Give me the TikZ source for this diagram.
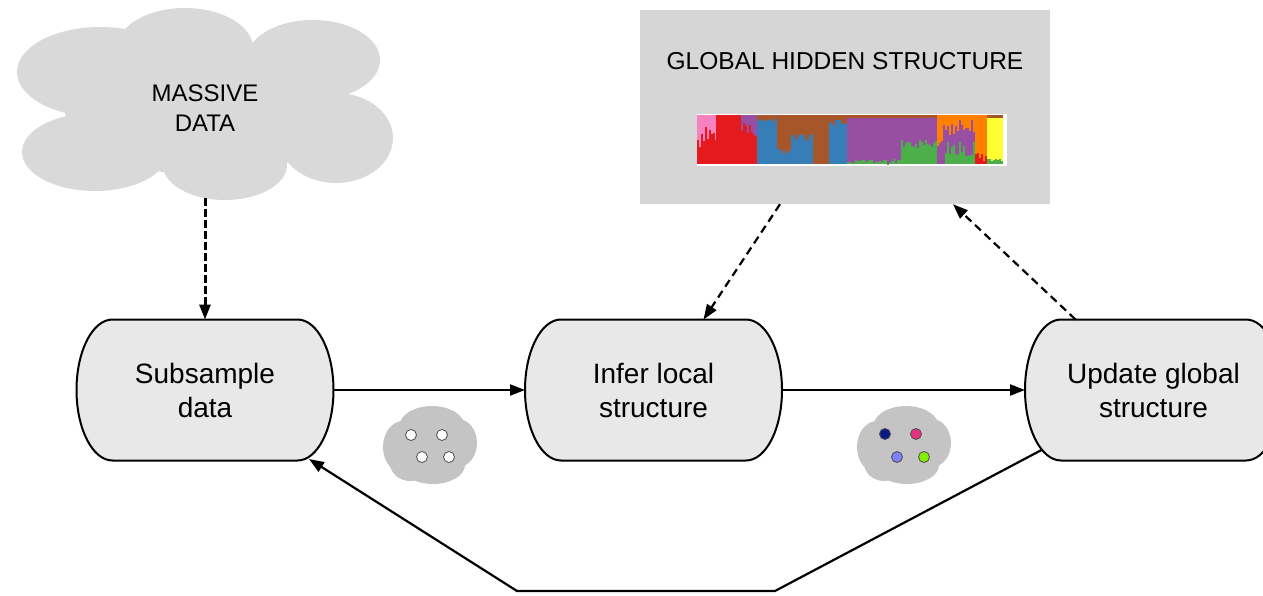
\documentclass[tikz,border=0pt]{standalone}
\usepackage{fontspec}
\setmainfont{Liberation Sans}
\usetikzlibrary{arrows.meta,backgrounds}

\definecolor{cloudgray}{HTML}{D9D9D9}
\definecolor{puffgray}{HTML}{C4C4C4}
\definecolor{boxgray}{HTML}{E8E8E8}
\definecolor{panelgray}{HTML}{D6D6D6}
\definecolor{sred}{HTML}{E41A1C}
\definecolor{sblue}{HTML}{377EB8}
\definecolor{sgreen}{HTML}{4DAF4A}
\definecolor{spurple}{HTML}{984EA3}
\definecolor{sorange}{HTML}{FF7F00}
\definecolor{syellow}{HTML}{FFFF33}
\definecolor{sbrown}{HTML}{A65628}
\definecolor{spink}{HTML}{F781BF}
\definecolor{dotnavy}{HTML}{0A1A85}
\definecolor{dotpink}{HTML}{E8307F}
\definecolor{dotblue}{HTML}{8080F8}
\definecolor{dotlime}{HTML}{80F000}

\tikzset{
  stage/.style={minimum width=257pt, minimum height=141pt, inner sep=0pt, outer sep=0pt,
    align=center, font=\fontsize{28}{34}\selectfont},
  stageline/.style={draw=black, line width=2pt, fill=boxgray},
  flow/.style={line width=2.2pt, -{Triangle[length=15pt,width=11pt]}},
  hint/.style={flow, dash pattern=on 8pt off 5pt},
  dot/.style={circle, minimum size=11pt, inner sep=0pt, draw=black!70, line width=0.8pt},
}

\begin{document}
\begin{tikzpicture}[x=1pt, y=-1pt]
    \useasboundingbox (0,0) rectangle (1263,596);

    % massive data cloud
    \fill[cloudgray] (185,48) ellipse (68 and 40);
    \fill[cloudgray] (313,60) ellipse (67 and 40);
    \fill[cloudgray] (336,138) ellipse (57 and 45);
    \fill[cloudgray] (225,165) ellipse (62 and 35);
    \fill[cloudgray] (95,152) ellipse (73 and 39);
    \fill[cloudgray] (100,72) ellipse (83 and 45);
    \fill[cloudgray] (205,110) ellipse (140 and 65);
    \node[minimum width=300pt, minimum height=180pt, align=center,
      font=\fontsize{24}{30}\selectfont] (massive) at (205,108) {MASSIVE\\DATA};

    % small clouds
    \foreach \cx/\cy in {430/445, 904/445} {
        \fill[puffgray] (\cx+2,\cy-18) ellipse (33 and 21);
        \fill[puffgray] (\cx-27,\cy+2) ellipse (20 and 26);
        \fill[puffgray] (\cx+28,\cy-2) ellipse (19 and 24);
        \fill[puffgray] (\cx+3,\cy+20) ellipse (32 and 19);
        \fill[puffgray] (\cx-20,\cy+18) ellipse (20 and 18);
        \fill[puffgray] (\cx,\cy) ellipse (36 and 28);
    }
    \node[dot, fill=white] (d1) at (411,435) {};
    \node[dot, fill=white] (d2) at (442,435) {};
    \node[dot, fill=white] (d3) at (422,457) {};
    \node[dot, fill=white] (d4) at (449,457) {};
    \node[dot, fill=dotnavy] (e1) at (885,434) {};
    \node[dot, fill=dotpink] (e2) at (916,434) {};
    \node[dot, fill=dotblue] (e3) at (897,457) {};
    \node[dot, fill=dotlime] (e4) at (924,457) {};

    % global panel
    \node[fill=panelgray, minimum width=410pt, minimum height=194pt] (global) at (845,107) {};
    \node[font=\fontsize{24.5}{30}\selectfont] (title) at (845,61) {GLOBAL HIDDEN STRUCTURE};
    \node[fill=white, minimum width=310pt, minimum height=52pt, inner sep=0pt] (bars) at (851.5,140.5) {};
    \foreach \xa/\xb/\ya/\yb/\c in {
        697/716/115/164/spink, 716/741/115/164/sred, 741/757/115/164/spurple,
        757/847/115/164/sbrown, 847/937/115/164/spurple, 847/937/115/118/sbrown,
        937/987/115/164/sorange, 987/1003/115/164/syellow, 987/1003/115/118/sbrown}
        \fill[\c] (\xa,\ya) rectangle (\xb,\yb);
    \pgfmathsetseed{11}
    \foreach \xa/\xb/\top/\amp/\c in {
        697/717/126/22/sred, 741/757/120/18/sred, 757/777/118/4/sblue,
        777/791/148/8/sblue, 791/813/133/12/sblue, 829/847/119/8/sblue,
        847/901/159/5/sgreen, 901/937/140/9/sgreen,
        937/943/138/16/spurple, 943/975/120/16/spurple, 945/975/142/14/sgreen,
        975/987/152/10/sred, 987/1003/158/4/sgreen} {
        \pgfmathtruncatemacro\n{(\xb-\xa)/2-1}
        \foreach \i in {0,...,\n} {
            \pgfmathsetmacro\h{\top+\amp*rnd}
            \fill[\c] (\xa+2*\i,\h) rectangle (\xa+2*\i+2,164);
        }
    }

    % process stages
    \node[stage] (sub) at (205,390) {Subsample\\data};
    \node[stage] (infer) at (653.5,390) {Infer local\\structure};
    \node[stage] (update) at (1153.5,390) {Update global\\structure};
    \begin{scope}[on background layer]
        \foreach \n in {sub,infer,update}
            \draw[stageline] ([xshift=36pt]\n.north west) -- ([xshift=-36pt]\n.north east)
                arc[start angle=90, end angle=-90, x radius=36pt, y radius=70.5pt]
                -- ([xshift=36pt]\n.south west)
                arc[start angle=270, end angle=90, x radius=36pt, y radius=70.5pt] -- cycle;
    \end{scope}

    % connectors
    \draw[hint, line width=3pt, dash pattern=on 8pt off 3pt] (massive.south) -- (sub.north);
    \draw[hint] ([xshift=-65pt]global.south) -- ([xshift=50pt]infer.north);
    \draw[hint] ([xshift=-78pt]update.north) -- ([xshift=108pt]global.south);
    \draw[flow] (sub) -- (infer);
    \draw[flow] (infer) -- (update);
    \draw[flow] ([xshift=-112pt,yshift=-60pt]update.center) -- (775,591) -- (517,591)
        -- ([xshift=104pt,yshift=-69pt]sub.center);
\end{tikzpicture}
\end{document}
